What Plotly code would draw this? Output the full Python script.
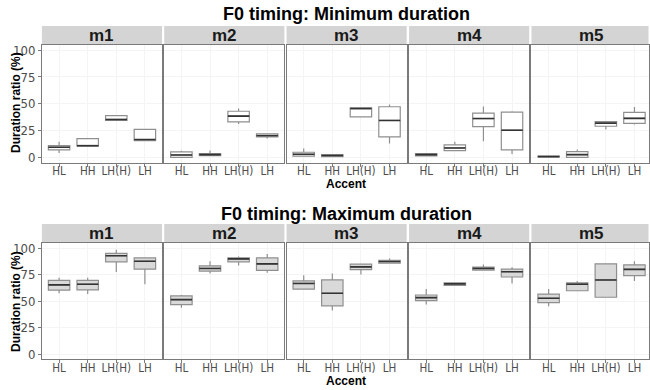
import plotly.graph_objects as go

accents = ["HL", "HH", "LH(H)", "LH"]
panels = ["m1", "m2", "m3", "m4", "m5"]
titles = ["F0 timing: Minimum duration", "F0 timing: Maximum duration"]
y_ticks = [0, 25, 50, 75, 100]

# Minimum duration (per panel: HL, HH, LH(H), LH)
min_lo = [[4, 10, 34, 15.6], [0, 1.6, 31, 17.5], [1, 0.6, 37.8, 12.8], [1.3, 5.6, 15, 3.1], [0.3, 0, 26, 30.6]]
min_q1 = [[7, 10.3, 34.4, 15.6], [0, 1.6, 33, 19], [1, 0.6, 37.8, 19], [1.3, 6.2, 28.7, 6.9], [0.3, 0, 29, 31.6]]
min_med = [[9.4, 10.8, 35.3, 16.6], [2.2, 2.5, 38.4, 20.3], [2.8, 1.6, 45.6, 34.4], [2.5, 8.7, 36.2, 25.3], [0.6, 2.5, 31.9, 36.3]]
min_q3 = [[11, 17.5, 39, 26], [5, 3.5, 43, 22], [4.7, 2.5, 46.2, 47.2], [3.5, 11.6, 41.2, 42.2], [1, 5.3, 33.4, 41.9]]
min_hi = [[14.4, 18, 39, 26], [6, 6.3, 45.6, 22], [8.1, 2.5, 46.2, 49.4], [3.5, 14.4, 47.5, 43], [1, 7.2, 33.4, 46.9]]

# Maximum duration
max_lo = [[57.3, 56.6, 77.4, 65.9], [43.6, 76.1, 83.6, 76.8], [61.3, 41.1, 75, 85.7], [46.7, 64.7, 79.2, 66.6], [45.2, 59.7, 53.6, 69]]
max_q1 = [[60.3, 60.6, 87, 80.1], [46.7, 78.3, 87, 78.9], [61.3, 45.5, 79.6, 85.7], [50.4, 64.7, 79.2, 72.7], [48.6, 59.7, 53.6, 74]]
max_med = [[65.3, 65.9, 92.8, 87.6], [51.3, 80.8, 89.8, 85.1], [66.6, 57.3, 82.3, 87.3], [53.2, 66.2, 80.8, 77.7], [52.6, 65.9, 69.9, 79.9]]
max_q3 = [[69.6, 69.6, 95, 90.7], [54.8, 83.3, 90.7, 90.7], [69, 69.9, 84.8, 88.5], [55.7, 67.1, 82, 80.1], [56.6, 67.1, 85.1, 84.2]]
max_hi = [[72, 72, 98.4, 91.3], [55.7, 87.6, 92, 94.4], [74.3, 76.1, 84.8, 90.1], [61.3, 67.1, 84.5, 82], [61.3, 69, 85.7, 87.6]]

W, H = 650, 390
TICKFONT = "Liberation Sans Narrow, DejaVu Sans Condensed, Liberation Sans, Arial"
BOLD = "Liberation Sans, Arial"

panel_x0 = [42, 164.5, 287, 409.7, 532.3]
panel_w = 120.3
rows = [
    dict(top=43.3, bot=162.3, strip=24.3, title=12, accent=184, ycenter=101),
    dict(top=243.3, bot=361.0, strip=224.3, title=214, accent=383, ycenter=302),
]
datasets = [
    (min_lo, min_q1, min_med, min_q3, min_hi, "white"),
    (max_lo, max_q1, max_med, max_q3, max_hi, "#d9d9d9"),
]

def px_x(p):
    return p / W

def px_y(p):
    return 1 - p / H

fig = go.Figure()
layout = dict(
    width=W, height=H, margin=dict(l=0, r=0, t=0, b=0),
    paper_bgcolor="white", plot_bgcolor="white",
    showlegend=False, boxmode="overlay",
    font=dict(family=TICKFONT, color="#4d4d4d", size=12),
)
shapes, annotations = [], []
BORDER = "#7a7a7a"
units_per_px = 4.2 / panel_w

n = 0
for r, row in enumerate(rows):
    lo, q1, med, q3, hi, fill = datasets[r]
    for p in range(5):
        n += 1
        xa = "x" if n == 1 else f"x{n}"
        ya = "y" if n == 1 else f"y{n}"
        x0 = panel_x0[p]
        full_x1 = x0 + panel_w
        x1 = min(full_x1, W - 0.5)
        xr = [-0.6, 3.6 - (full_x1 - x1) * units_per_px]
        xdom = [px_x(x0), px_x(x1)]
        ydom = [px_y(row["bot"]), px_y(row["top"])]
        layout["xaxis" if n == 1 else f"xaxis{n}"] = dict(
            domain=xdom, anchor=ya, type="category",
            categoryorder="array", categoryarray=accents,
            range=xr, showline=True, mirror=True,
            linecolor=BORDER, linewidth=1,
            showgrid=True, gridcolor="#f4f4f4", gridwidth=1,
            ticks="outside", ticklen=3, tickcolor=BORDER, tickangle=0,
            ticklabelstandoff=-5,
            tickfont=dict(family=TICKFONT, size=11.5, color="#4d4d4d"),
            zeroline=False, fixedrange=True,
        )
        layout["yaxis" if n == 1 else f"yaxis{n}"] = dict(
            domain=ydom, anchor=xa, range=[-5, 105],
            tickvals=y_ticks, showticklabels=(p == 0),
            showline=True, mirror=True, linecolor=BORDER, linewidth=1,
            showgrid=True, gridcolor="#f4f4f4", gridwidth=1,
            ticks="outside" if p == 0 else "", ticklen=3, tickcolor=BORDER,
            tickfont=dict(family=TICKFONT, size=13, color="#4d4d4d"),
            zeroline=False, fixedrange=True,
        )
        fig.add_trace(go.Box(
            x=accents, q1=q1[p], median=med[p], q3=q3[p],
            lowerfence=lo[p], upperfence=hi[p],
            fillcolor=fill, line=dict(color="#8f8f8f", width=1.2),
            whiskerwidth=0, width=0.75, boxpoints=False,
            xaxis=xa, yaxis=ya, hoverinfo="skip",
        ))
        # darker median line
        fig.add_trace(go.Box(
            x=accents, q1=med[p], median=med[p], q3=med[p],
            lowerfence=med[p], upperfence=med[p],
            fillcolor="rgba(0,0,0,0)", line=dict(color="#333333", width=1.6),
            whiskerwidth=0, width=0.75, boxpoints=False,
            xaxis=xa, yaxis=ya, hoverinfo="skip",
        ))
        shapes.append(dict(
            type="rect", xref="paper", yref="paper",
            x0=xdom[0], x1=xdom[1], y0=px_y(row["top"] - 0.6), y1=px_y(row["strip"]),
            fillcolor="#d4d4d4", line=dict(width=0), layer="below",
        ))
        annotations.append(dict(
            text=f"<b>{panels[p]}</b>", xref="paper", yref="paper",
            x=px_x(x0 + panel_w / 2), y=px_y((row["strip"] + row["top"]) / 2),
            xanchor="center", yanchor="middle", showarrow=False,
            font=dict(family=BOLD, size=17, color="#1a1a1a"),
        ))
    annotations.append(dict(
        text=f"<b>{titles[r]}</b>", xref="paper", yref="paper",
        x=px_x(347), y=px_y(row["title"]), xanchor="center", yanchor="middle",
        showarrow=False, font=dict(family=BOLD, size=18, color="black"),
    ))
    annotations.append(dict(
        text="<b>Accent</b>", xref="paper", yref="paper",
        x=px_x(347), y=px_y(row["accent"]), xanchor="center", yanchor="middle",
        showarrow=False, font=dict(family=BOLD, size=12, color="black"),
    ))
    annotations.append(dict(
        text="<b>Duration ratio (%)</b>", xref="paper", yref="paper",
        x=px_x(16), y=px_y(row["ycenter"]), xanchor="center", yanchor="middle",
        textangle=-90, showarrow=False,
        font=dict(family=BOLD, size=12, color="black"),
    ))

layout["shapes"] = shapes
layout["annotations"] = annotations
fig.update_layout(**layout)
fig.write_html(
    "out.html",
    config={"displayModeBar": False},
    post_script="document.body.style.margin='0';document.body.style.overflow='hidden';",
)
